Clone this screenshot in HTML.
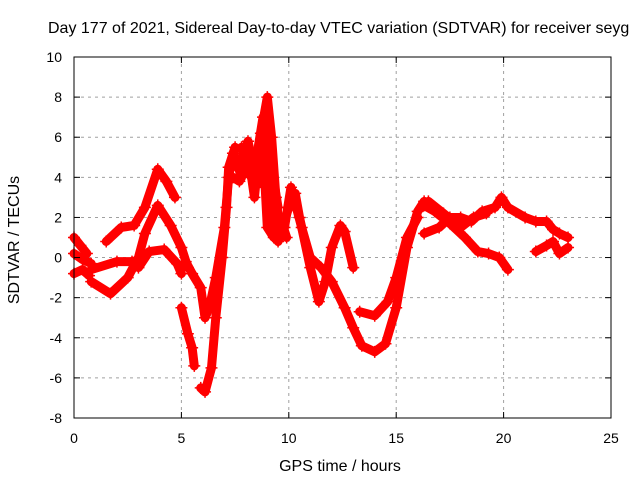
<!DOCTYPE html>
<html><head><meta charset="utf-8"><style>
body{margin:0;background:#fff}
svg text{font-family:"Liberation Sans",sans-serif;font-size:14px;fill:#000}
svg text.big{font-size:16px}
</style></head><body>
<svg id="c" width="640" height="480" xmlns="http://www.w3.org/2000/svg">
<rect width="640" height="480" fill="#fff"/>
<text class="big" x="48" y="33">Day 177 of 2021, Sidereal Day-to-day VTEC variation (SDTVAR) for receiver seyg</text>
<g id="grid"></g>
<g id="marks"></g>
<rect x="74" y="57" width="537" height="361" fill="none" stroke="#000"/>
<g id="ticks"></g>
<text class="big" x="340" y="471" text-anchor="middle">GPS time / hours</text>
<text class="big" transform="translate(19,240) rotate(-90)" text-anchor="middle">SDTVAR / TECUs</text>
</svg>
<script>
const xTicks=[0,5,10,15,20,25];
const yTicks=[-8,-6,-4,-2,0,2,4,6,8,10];
const track1=[[1.5,0.8],[2.2,1.5],[2.8,1.6],[3.3,2.5],[3.9,4.4],[4.3,3.8],[4.7,3.0]];
const track2=[[0.8,-1.2],[1.7,-1.8],[2.5,-1.0],[3.0,0],[3.3,1.2],[3.9,2.6],[4.5,1.6],[5.0,0.5],[5.3,-0.5]];
const track3=[[0.8,-0.6],[2.0,-0.2],[2.7,-0.2],[3.0,-0.5],[3.5,0.3],[4.2,0.4],[4.8,-0.3],[5.0,-0.8]];
const track4=[[0,1.0],[0.3,0.6],[0.6,0.2]];
const track5=[[0,-0.8],[0.4,-0.6],[0.7,-0.9]];
const track6=[[0,0.2],[0.4,-0.1],[0.8,-0.3]];
const track7=[[5.0,-2.5],[5.3,-3.8],[5.5,-4.5],[5.6,-5.4]];
const track8=[[5.9,-6.5],[6.1,-6.7],[6.4,-5.5],[6.6,-3.0],[6.9,0],[7.1,2.5],[7.2,4.5],[7.5,5.5]];
const track9=[[5.2,-0.2],[5.5,-0.8],[5.9,-1.5],[6.1,-3.0],[6.3,-2.5],[6.6,-1.0],[7.0,1.5],[7.2,4.0],[7.4,5.2]];
const track10=[[7.5,5.0],[7.8,4.0],[8.0,5.5],[8.2,4.5],[8.4,3.0],[8.7,6.2],[9.0,8.0],[9.2,6.0],[9.4,3.0],[9.6,1.2],[10.0,2.5],[10.3,3.2],[10.5,2.0],[11.0,-0.5],[11.4,-2.2],[11.7,-1.2],[12.0,0.5],[12.4,1.6],[12.6,1.3],[13.0,-0.5]];
const track11=[[7.8,5.5],[8.1,4.2],[8.5,3.8],[8.8,5.5],[9.1,2.5],[9.5,0.8],[9.8,1.5],[10.1,3.5],[10.6,1.5],[11.0,0],[11.5,-0.5],[12.0,-1.2],[12.6,-2.5],[13.0,-3.5],[13.4,-4.4],[14.0,-4.7],[14.5,-4.3],[15.0,-2.5],[15.5,0.5],[16.0,2.3],[16.3,2.8]];
const track12=[[13.3,-2.7],[14.0,-2.9],[14.6,-2.2],[15.0,-1.0],[15.5,1.0],[16.0,2.0]];
const track13=[[16.3,2.6],[16.8,2.3],[17.5,1.7],[18.2,1.0],[18.8,0.3],[19.3,0.2],[19.8,0],[20.2,-0.6]];
const track14=[[16.3,1.2],[17.0,1.5],[17.5,2.0],[18.0,2.0],[18.5,1.8],[19.0,2.3],[19.6,2.5],[19.9,3.0],[20.2,2.5],[21.0,2.0],[21.5,1.8],[22.0,1.8],[22.3,1.4],[22.6,1.2],[23.0,1.0]];
const track15=[[16.5,2.8],[17.2,2.2],[18.0,1.5],[18.6,2.0],[19.2,2.2]];
const track16=[[21.5,0.3],[22.0,0.6],[22.3,0.8],[22.6,0.2],[23.0,0.5]];
const track17=[[7.6,4.5],[7.9,5.2],[8.1,5.8],[8.3,4.8],[8.6,4.2],[8.9,3.5],[9.0,1.5],[9.3,1.0],[9.6,2.0],[9.9,1.0]];
const track18=[[7.4,4.0],[7.7,3.8],[8.0,4.6],[8.5,5.0],[8.8,7.0],[9.2,4.5],[9.5,2.5]];
const tracks=[track1,track2,track3,track4,track5,track6,track7,track8,track9,track10,track11,track12,track13,track14,track15,track16,track17,track18];
const X=v=>74+v*537/25, Y=v=>418-(v+8)*361/18;
const NS='http://www.w3.org/2000/svg';
function mk(t,a,p){const e=document.createElementNS(NS,t);for(const k in a)e.setAttribute(k,a[k]);p.appendChild(e);return e;}
const g=document.getElementById('grid'),tk=document.getElementById('ticks'),m=document.getElementById('marks');
xTicks.forEach(v=>{const x=X(v);
 if(v>0&&v<25){const l=mk('line',{x1:x,x2:x,y1:57,y2:418,stroke:'#a0a0a0','stroke-dasharray':'3,4'},g);}
 mk('line',{x1:x,x2:x,y1:418,y2:412,stroke:'#000'},tk);mk('line',{x1:x,x2:x,y1:57,y2:63,stroke:'#000'},tk);
 const t=mk('text',{x:x,y:443,'text-anchor':'middle'},tk);t.textContent=v;
 });
yTicks.forEach(v=>{const y=Y(v);
 if(v>-8&&v<10){const l=mk('line',{x1:74,x2:611,y1:y,y2:y,stroke:'#a0a0a0','stroke-dasharray':'3,4'},g);}
 mk('line',{x1:74,x2:80,y1:y,y2:y,stroke:'#000'},tk);mk('line',{x1:611,x2:605,y1:y,y2:y,stroke:'#000'},tk);
 const t=mk('text',{x:62,y:y+5,'text-anchor':'end'},tk);t.textContent=v;
 });
tracks.forEach((tr,i)=>{
 const p=mk('polyline',{points:tr.map(d=>X(d[0])+','+Y(d[1])).join(' '),fill:'none',stroke:'#f00','stroke-width':9,'stroke-linejoin':'round','stroke-linecap':'round'},m);
 
 
 tr.forEach(d=>{const x=X(d[0]),y=Y(d[1]);
  const pt=mk('path',{d:`M${x-6},${y}H${x+6}M${x},${y-6}V${y+6}`,stroke:'#f00','stroke-width':1.5},m);
  
  });
});
</script>
</body></html>
